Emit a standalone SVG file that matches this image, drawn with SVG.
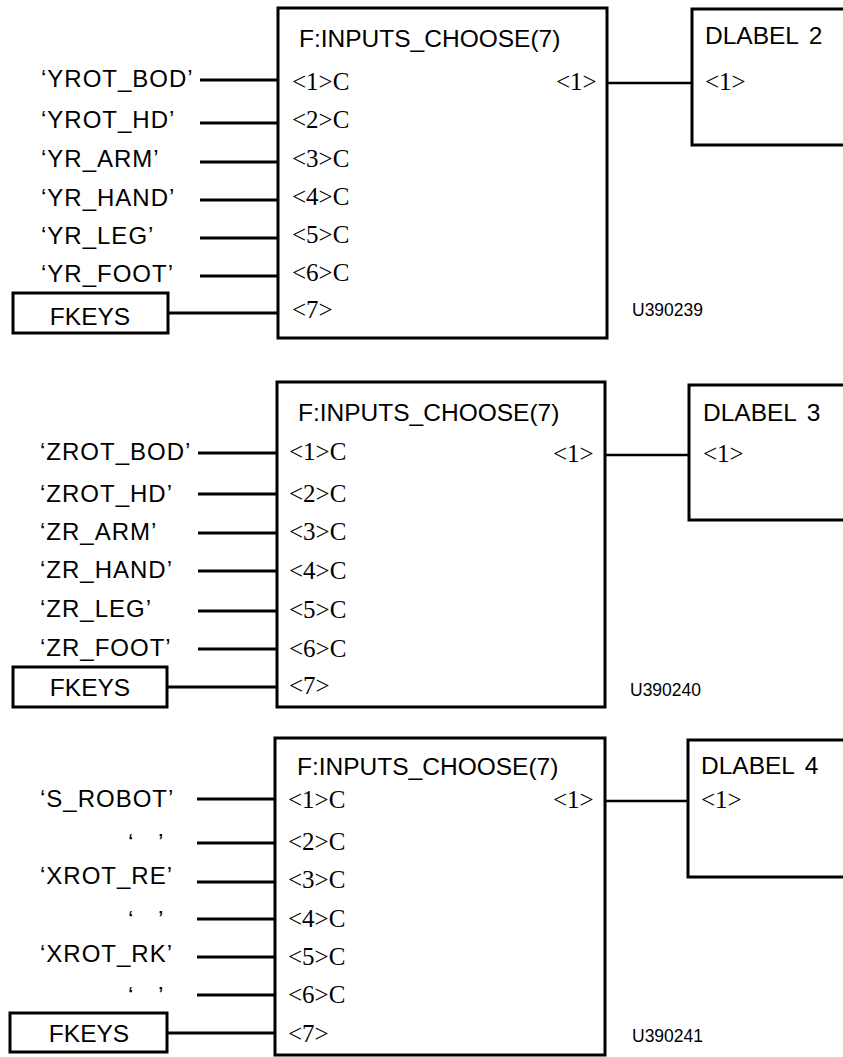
<svg xmlns="http://www.w3.org/2000/svg" width="843" height="1057" viewBox="0 0 843 1057">
<style>
.bx{fill:#fff;stroke:#000;stroke-width:3}
.ln{stroke:#000;stroke-width:3;fill:none}
.ol{stroke:#000;stroke-width:2.5;fill:none}
.s{font-family:"Liberation Sans",Arial,sans-serif;font-size:24.5px;fill:#000}
.l{letter-spacing:1px;font-size:24px}
.p{font-family:"Liberation Serif","Times New Roman",serif;font-size:25px;fill:#000}
.id{font-family:"Liberation Sans",Arial,sans-serif;font-size:17.5px;fill:#000}
.c{text-anchor:middle}
</style>
<rect width="843" height="1057" fill="#fff"/>
<g id="connectors">
<path class="ln" d="M200 80H278M200 123H278M200 162H278M200 200H278M200 238H278M200 276H278M168 313H278"/>
<path class="ol" d="M607 83H692"/>
<path class="ln" d="M198 453H277M198 494H277M198 533H277M198 571H277M198 611H277M198 649H277M167 687H277"/>
<path class="ol" d="M605 455H689"/>
<path class="ln" d="M197 799H275M197 843H275M197 882H275M197 919H275M197 957H275M197 995H275M167 1033H275"/>
<path class="ol" d="M605 801H688"/>
</g>
<g id="section1">
<g id="labels1">
<text class="s l" x="41" y="87">‘YROT_BOD’</text>
<text class="s l" x="41" y="128">‘YROT_HD’</text>
<text class="s l" x="41" y="167">‘YR_ARM’</text>
<text class="s l" x="41" y="206">‘YR_HAND’</text>
<text class="s l" x="41" y="244">‘YR_LEG’</text>
<text class="s l" x="41" y="282">‘YR_FOOT’</text>
</g>
<g id="fkeys1"><rect class="bx" x="13" y="293" width="155" height="40"/><text class="s c" x="90" y="325">FKEYS</text></g>
<g id="choose1">
<rect class="bx" x="278" y="8" width="329" height="330"/>
<text class="s" x="299" y="47">F:INPUTS_CHOOSE(7)</text>
<text class="p" x="292" y="90">&lt;1&gt;C</text>
<text class="p" x="292" y="128">&lt;2&gt;C</text>
<text class="p" x="292" y="167">&lt;3&gt;C</text>
<text class="p" x="292" y="205">&lt;4&gt;C</text>
<text class="p" x="292" y="243">&lt;5&gt;C</text>
<text class="p" x="292" y="281">&lt;6&gt;C</text>
<text class="p" x="292" y="318">&lt;7&gt;</text>
<text class="p" x="556" y="90">&lt;1&gt;</text>
</g>
<text class="id" x="632" y="316">U390239</text>
<g id="dlabel2"><rect class="bx" x="692" y="9" width="170" height="136"/><text class="s" x="705" y="44" word-spacing="4">DLABEL 2</text><text class="p" x="705" y="90">&lt;1&gt;</text></g>
</g>
<g id="section2">
<g id="labels2">
<text class="s l" x="40" y="460">‘ZROT_BOD’</text>
<text class="s l" x="40" y="502">‘ZROT_HD’</text>
<text class="s l" x="40" y="540">‘ZR_ARM’</text>
<text class="s l" x="40" y="578">‘ZR_HAND’</text>
<text class="s l" x="40" y="617">‘ZR_LEG’</text>
<text class="s l" x="40" y="656">‘ZR_FOOT’</text>
</g>
<g id="fkeys2"><rect class="bx" x="13" y="667" width="154" height="40"/><text class="s c" x="90" y="696">FKEYS</text></g>
<g id="choose2">
<rect class="bx" x="277" y="382" width="328" height="325"/>
<text class="s" x="298" y="421">F:INPUTS_CHOOSE(7)</text>
<text class="p" x="289" y="460">&lt;1&gt;C</text>
<text class="p" x="289" y="502">&lt;2&gt;C</text>
<text class="p" x="289" y="540">&lt;3&gt;C</text>
<text class="p" x="289" y="579">&lt;4&gt;C</text>
<text class="p" x="289" y="618">&lt;5&gt;C</text>
<text class="p" x="289" y="657">&lt;6&gt;C</text>
<text class="p" x="289" y="694">&lt;7&gt;</text>
<text class="p" x="553" y="462">&lt;1&gt;</text>
</g>
<text class="id" x="630" y="696">U390240</text>
<g id="dlabel3"><rect class="bx" x="689" y="385" width="170" height="135"/><text class="s" x="703" y="421" word-spacing="4">DLABEL 3</text><text class="p" x="703" y="462">&lt;1&gt;</text></g>
</g>
<g id="section3">
<g id="labels3">
<text class="s l" x="40" y="807">‘S_ROBOT’</text>
<text class="s" x="128" y="851">‘<tspan x="158">’</tspan></text>
<text class="s l" x="40" y="884">‘XROT_RE’</text>
<text class="s" x="128" y="928">‘<tspan x="158">’</tspan></text>
<text class="s l" x="40" y="962">‘XROT_RK’</text>
<text class="s" x="128" y="1004">‘<tspan x="158">’</tspan></text>
</g>
<g id="fkeys3"><rect class="bx" x="10" y="1013" width="157" height="39"/><text class="s c" x="89" y="1042">FKEYS</text></g>
<g id="choose3">
<rect class="bx" x="275" y="738" width="330" height="317"/>
<text class="s" x="297" y="775">F:INPUTS_CHOOSE(7)</text>
<text class="p" x="288" y="808">&lt;1&gt;C</text>
<text class="p" x="288" y="850">&lt;2&gt;C</text>
<text class="p" x="288" y="888">&lt;3&gt;C</text>
<text class="p" x="288" y="927">&lt;4&gt;C</text>
<text class="p" x="288" y="965">&lt;5&gt;C</text>
<text class="p" x="288" y="1003">&lt;6&gt;C</text>
<text class="p" x="288" y="1042">&lt;7&gt;</text>
<text class="p" x="553" y="808">&lt;1&gt;</text>
</g>
<text class="id" x="632" y="1042">U390241</text>
<g id="dlabel4"><rect class="bx" x="688" y="740" width="170" height="137"/><text class="s" x="701" y="774" word-spacing="4">DLABEL 4</text><text class="p" x="701" y="808">&lt;1&gt;</text></g>
</g>
</svg>
